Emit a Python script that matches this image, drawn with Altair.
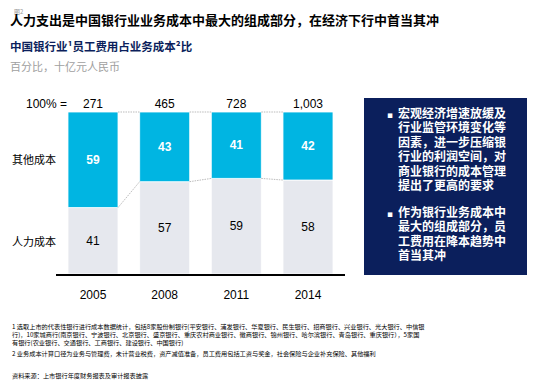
import altair as alt
import pandas as pd

years = ["2005", "2008", "2011", "2014"]
labor = [41, 57, 59, 58]
other = [59, 43, 41, 42]
totals = ["271", "465", "728", "1,003"]

CJK = "Noto Sans CJK SC"
NUM = "Liberation Sans"
CYAN = "#00B5E2"
GREY = "#E6E8EE"
NAVY = "#0B1F5C"

HW = 0.349  # bar half width in index units

df = pd.DataFrame({"year": years, "labor": labor, "other": other, "total": totals})
df["i"] = range(len(years))
df["x0"] = df["i"] - HW
df["x1"] = df["i"] + HW
df["base"] = 0
df["top"] = 100
df["labor_mid"] = df["labor"] / 2
df["other_mid"] = df["labor"] + df["other"] / 2

xs = alt.Scale(domain=[0, 3], range=[85, 300], nice=False, zero=False)
ys = alt.Scale(domain=[0, 100], range=[266, 104], nice=False)

def X(f):
    return alt.X(f, type="quantitative", scale=xs, axis=None)

def Y(f):
    return alt.Y(f, type="quantitative", scale=ys, axis=None)

base = alt.Chart(df)

labor_bar = base.mark_rect(color=GREY, stroke="white", strokeWidth=0.8).encode(
    x=X("x0"), x2="x1", y=Y("base"), y2="labor")
other_bar = base.mark_rect(color=CYAN, stroke="white", strokeWidth=0.8).encode(
    x=X("x0"), x2="x1", y=Y("labor"), y2="top")

conn_rows = []
for k in range(len(years) - 1):
    conn_rows.append({"a": k + HW, "b": k + 1 - HW, "ya": 100, "yb": 100})
    conn_rows.append({"a": k + HW, "b": k + 1 - HW, "ya": labor[k], "yb": labor[k + 1]})
conn = alt.Chart(pd.DataFrame(conn_rows)).mark_rule(
    color="#AAAAAA", strokeWidth=0.8, strokeDash=[1.5, 1]).encode(
    x=X("a"), x2="b", y=Y("ya"), y2="yb")

other_lbl = base.mark_text(font=NUM, fontSize=12, fontWeight="bold", color="white").encode(
    x=X("i"), y=Y("other_mid"), text="other:Q")
labor_lbl = base.mark_text(font=NUM, fontSize=12, color="black").encode(
    x=X("i"), y=Y("labor_mid"), text="labor:Q")
total_lbl = base.mark_text(font=NUM, fontSize=12, color="black").encode(
    x=X("i"), y=alt.value(96), text="total:N")
year_lbl = base.mark_text(font=NUM, fontSize=12, color="black").encode(
    x=X("i"), y=alt.value(287), text="year:N")

one = pd.DataFrame({"d": [0]})

def txt(t, x, y, **kw):
    return alt.Chart(pd.DataFrame({"t": [t]})).mark_text(**kw).encode(
        x=alt.value(x), y=alt.value(y), text="t:N")

axis_line = alt.Chart(one).mark_rule(color="black", strokeWidth=2).encode(
    x=alt.value(48), x2=alt.value(337), y=alt.value(267))

box = alt.Chart(one).mark_rect(color=NAVY).encode(
    x=alt.value(356), x2=alt.value(519), y=alt.value(90), y2=alt.value(267))

bullet1 = "宏观经济增速放缓及\n行业监管环境变化等\n因素，进一步压缩银\n行业的利润空间，对\n商业银行的成本管理\n提出了更高的要求"
bullet2 = "作为银行业务成本中\n最大的组成部分，员\n工费用在降本趋势中\n首当其冲"

note1 = ("1 选取上市的代表性银行进行成本数据统计，包括8家股份制银行(平安银行、浦发银行、华夏银行、民生银行、招商银行、兴业银行、光大银行、中信银\n"
         "   行)，10家城商行(南京银行、宁波银行、北京银行、盛京银行、重庆农村商业银行、徽商银行、锦州银行、哈尔滨银行、青岛银行、重庆银行），5家国\n"
         "   有银行(农业银行、交通银行、工商银行、建设银行、中国银行)")
note2 = "2 业务成本计算口径为业务与管理费，未计营业税费，资产减值准备，员工费用包括工资与奖金，社会保险与企业补充保险、其他福利"
source = "资料来源：上市银行年度财务报表及审计报表披露"

texts = [
    txt("图2", 6, 1, font=CJK, fontSize=6, color="#999999", align="left", baseline="top"),
    txt("人力支出是中国银行业业务成本中最大的组成部分，在经济下行中首当其冲", 2, 12.5,
        font=CJK, fontSize=13, fontWeight="bold", color="black", align="left", baseline="middle"),
    txt("中国银行业¹员工费用占业务成本²比", 2, 40,
        font=CJK, fontSize=11.5, fontWeight="bold", color=NAVY, align="left", baseline="middle"),
    txt("百分比，十亿元人民币", 2, 60,
        font=CJK, fontSize=11, color="#A0A0A0", align="left", baseline="middle"),
    txt("100% =", 59, 96, font=NUM, fontSize=12, color="black", align="right", baseline="middle"),
    txt("其他成本", 4, 153, font=CJK, fontSize=11, color="black", align="left", baseline="middle"),
    txt("人力成本", 4, 235, font=CJK, fontSize=11, color="black", align="left", baseline="middle"),
    txt("▪", 382, 107, font="DejaVu Sans", fontSize=9, color="white", align="center", baseline="middle"),
    txt("▪", 382, 206, font="DejaVu Sans", fontSize=9, color="white", align="center", baseline="middle"),
    txt(bullet1, 390, 101, font=CJK, fontSize=12, fontWeight="bold", color="white",
        align="left", baseline="top", lineBreak="\n", lineHeight=14.4),
    txt(bullet2, 390, 200, font=CJK, fontSize=12, fontWeight="bold", color="white",
        align="left", baseline="top", lineBreak="\n", lineHeight=14.4),
    txt(note1, 4, 316, font=CJK, fontSize=6.2, color="black", align="left", baseline="top",
        lineBreak="\n", lineHeight=8.2),
    txt(note2, 4, 343, font=CJK, fontSize=6.2, color="black", align="left", baseline="top"),
    txt(source, 4, 365, font=CJK, fontSize=6.2, color="black", align="left", baseline="top"),
]

chart = alt.layer(
    labor_bar, other_bar, conn, axis_line, box,
    other_lbl, labor_lbl, total_lbl, year_lbl, *texts
).properties(
    width=522, height=378, padding=0,
    autosize=alt.AutoSizeParams(type="none"),
).configure_view(stroke=None)

chart.save("out.html", embed_options={"renderer": "svg", "actions": False})
